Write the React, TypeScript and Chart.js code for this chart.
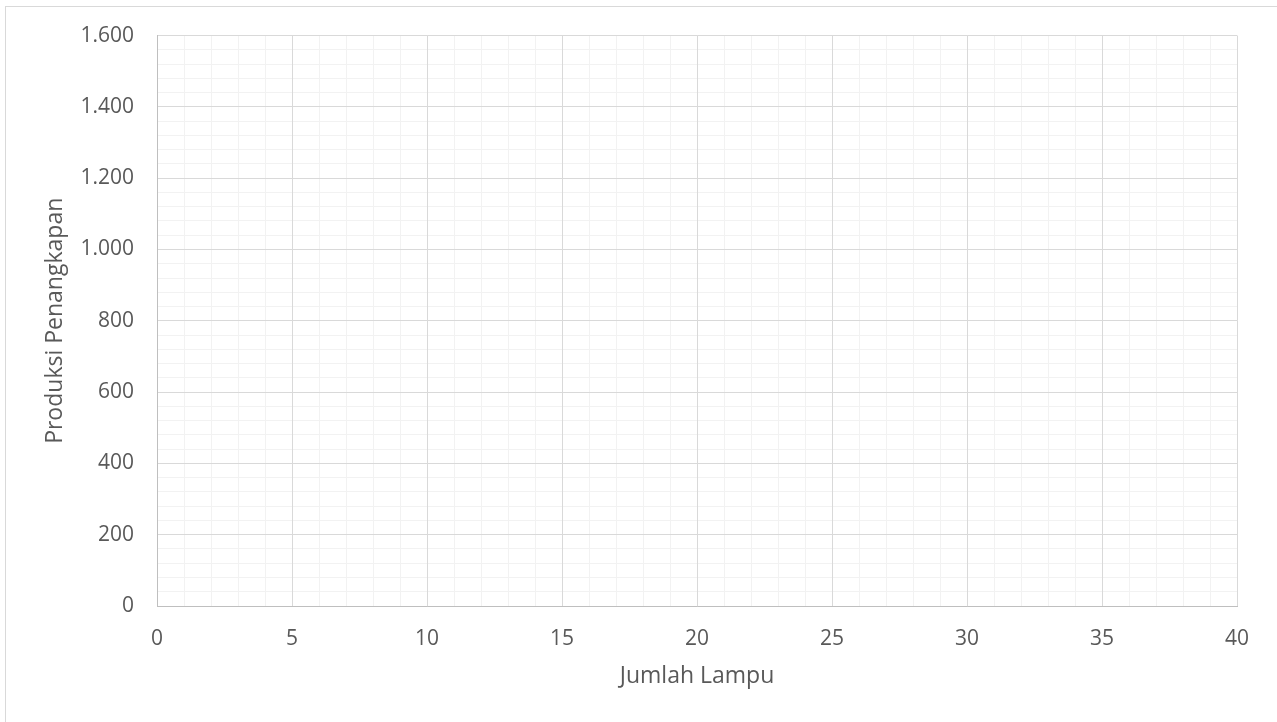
import React, { useEffect, useRef } from "react";
import { Chart, registerables } from "chart.js";

Chart.register(...registerables);

// Series (no observations plotted yet)
const jumlahLampu: number[] = [];
const produksiPenangkapan: number[] = [];

// Axis ranges and tick steps
const xRange = [0, 40];
const xMajorStep = 5;
const xMinorStep = 1;
const yRange = [0, 1600];
const yMajorStep = 200;
const yMinorStep = 40;

const xTitle = "Jumlah Lampu";
const yTitle = "Produksi Penangkapan";

const W = 1277;
const H = 722;
const FONT = "'Open Sans', 'Liberation Sans', sans-serif";

// Indonesian-style thousands separator: 1600 -> "1.600"
const fmt = (v: number) => String(v).replace(/\B(?=(\d{3})+(?!\d))/g, ".");

export default function App() {
  const ref = useRef<HTMLCanvasElement | null>(null);

  useEffect(() => {
    if (!ref.current) return;
    const points = jumlahLampu.map((x, i) => ({ x, y: produksiPenangkapan[i] }));

    // Light minor grid, drawn beneath the major grid
    const minorAxis = (position: string, min: number, max: number, step: number, z: number) => ({
      type: "linear",
      position,
      min,
      max,
      ticks: { display: false, stepSize: step },
      grid: { color: "#f2f2f2", lineWidth: 1, drawTicks: false, z },
      border: { display: false },
      afterFit: (s: any) => {
        if (position === "left") s.width = 0;
        else s.height = 0;
      },
    });

    const chart = new Chart(ref.current, {
      type: "scatter",
      data: {
        datasets: [
          {
            label: yTitle,
            data: points,
            backgroundColor: "#4472c4",
            borderColor: "#4472c4",
            pointRadius: 4,
          },
        ],
      },
      options: {
        responsive: false,
        animation: false,
        layout: { padding: { left: 0, top: 35, right: 40, bottom: 0 } },
        plugins: { legend: { display: false }, tooltip: { enabled: false } },
        scales: {
          xMinor: minorAxis("bottom", xRange[0], xRange[1], xMinorStep, -3) as any,
          yMinor: minorAxis("left", yRange[0], yRange[1], yMinorStep, -3) as any,
          x: {
            type: "linear",
            position: "bottom",
            min: xRange[0],
            max: xRange[1],
            ticks: {
              stepSize: xMajorStep,
              color: "#595959",
              font: { family: FONT, size: 21 },
              padding: 20,
              maxRotation: 0,
              callback: (v: any) => fmt(Number(v)),
            },
            grid: { color: "#d9d9d9", lineWidth: 1, drawTicks: false, z: -1 },
            border: { color: "#bfbfbf", width: 1 },
            title: {
              display: true,
              text: xTitle,
              color: "#595959",
              font: { family: FONT, size: 23 },
              padding: { top: 0, bottom: 32 },
            },
            afterFit: (s: any) => {
              s.height = H - 606;
            },
          },
          y: {
            type: "linear",
            position: "left",
            min: yRange[0],
            max: yRange[1],
            ticks: {
              stepSize: yMajorStep,
              color: "#595959",
              font: { family: FONT, size: 21 },
              padding: 23,
              callback: (v: any) => fmt(Number(v)),
            },
            grid: { color: "#d9d9d9", lineWidth: 1, drawTicks: false, z: -1 },
            border: { color: "#bfbfbf", width: 1 },
            title: {
              display: true,
              text: yTitle,
              color: "#595959",
              font: { family: FONT, size: 23 },
              padding: { top: 42, bottom: 0 },
            },
            afterFit: (s: any) => {
              s.width = 157;
            },
          },
        },
      } as any,
    });
    return () => chart.destroy();
  }, []);

  return (
    <div
      style={{
        position: "fixed",
        left: 0,
        top: 0,
        width: W,
        height: H,
        overflow: "hidden",
        background: "#ffffff",
      }}
    >
      <div
        style={{
          position: "absolute",
          left: 5,
          top: 6,
          width: W + 20,
          height: H + 20,
          border: "1px solid #d9d9d9",
          boxSizing: "border-box",
        }}
      />
      <canvas ref={ref} width={W} height={H} style={{ position: "absolute", left: 0, top: 0 }} />
    </div>
  );
}
